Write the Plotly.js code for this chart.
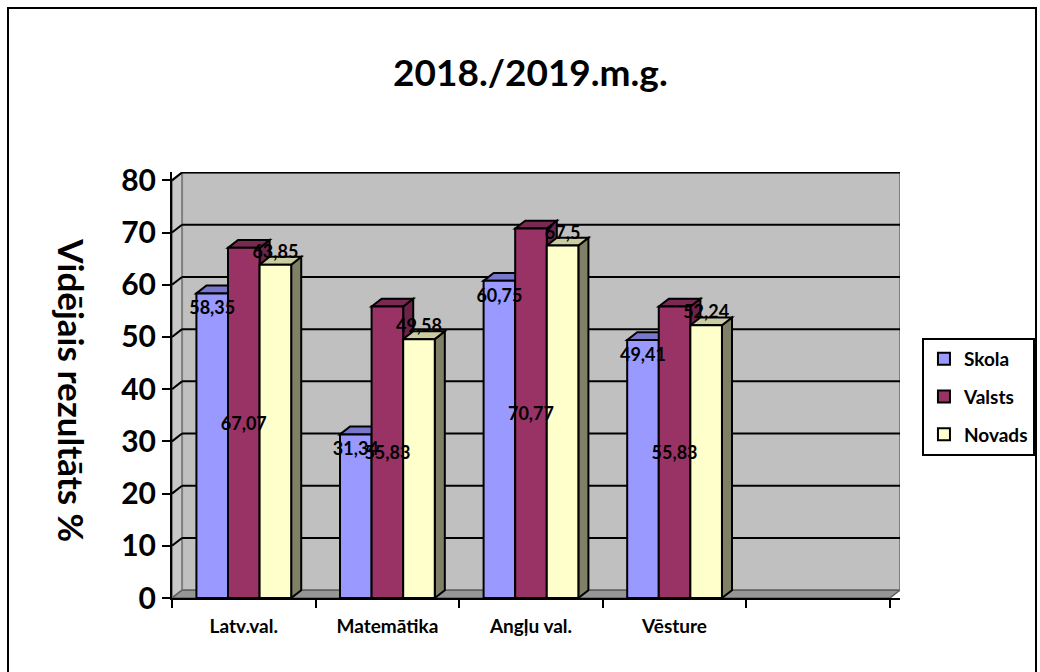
<!DOCTYPE html>
<html><head><meta charset="utf-8">
<script src="https://cdn.plot.ly/plotly-3.0.1.min.js"></script>
<style>
body{margin:0;background:#fff;}
#wrap{position:relative;width:1040px;height:672px;overflow:hidden;}
#chart{width:1040px;height:672px;}
#frame{position:absolute;left:7px;top:7px;width:1026px;height:700px;border:2px solid #000;pointer-events:none;}
</style></head>
<body><div id="wrap"><div id="chart"></div><div id="frame"></div></div>
<script>
const categories = ['Latv.val.', 'Matemātika', 'Angļu val.', 'Vēsture'];
const seriesNames = ['Skola', 'Valsts', 'Novads'];
const skola  = [58.35, 31.34, 60.75, 49.41];
const valsts = [67.07, 55.83, 70.77, 55.83];
const novads = [63.85, 49.58, 67.5, 52.24];
const yTicks = [0, 10, 20, 30, 40, 50, 60, 70, 80];

const FONT = 'Lato, "Open Sans", sans-serif';
const front = ['#9999FF', '#993366', '#FFFFCC'];
const topC  = ['#7777CC', '#7A2952', '#CCCCA3'];
const sideC = ['#6B6BB3', '#6B2447', '#808066'];
const W = 0.22, offs = [-0.33, -0.11, 0.11];
const DX = 0.07, DY = 1.5;
const xs = categories.map((c, i) => i);
const fmt = v => String(v).replace('.', ',');
const allSeries = [skola, valsts, novads];

const textPos = ['inside', 'inside', 'outside'];
const anchors = ['end', 'middle', 'middle'];
const barTraces = allSeries.map((vals, s) => ({
  type: 'bar', name: seriesNames[s], x: xs, y: vals,
  width: W, offset: offs[s],
  marker: {color: front[s], line: {color: '#000', width: 2}},
  legendgroup: 'g' + s, hoverinfo: 'skip'
}));
const labelTraces = allSeries.map((vals, s) => ({
  type: 'bar', x: xs, y: vals, width: W, offset: offs[s], showlegend: false,
  marker: {color: 'rgba(0,0,0,0)', line: {width: 0}},
  text: vals.map(fmt), textposition: textPos[s], insidetextanchor: anchors[s], textangle: 0,
  constraintext: 'none', cliponaxis: false,
  textfont: {family: FONT, size: 18, color: '#000', weight: 'bold'},
  hoverinfo: 'skip'
}));

const shapes = [];
shapes.push({type: 'rect', xref: 'x', yref: 'y', layer: 'below',
  x0: -0.5 + DX, x1: 4.5 + DX, y0: DY, y1: 80 + DY,
  fillcolor: '#C0C0C0', line: {color: '#808080', width: 2}});
shapes.push({type: 'path', xref: 'x', yref: 'y', layer: 'below',
  path: `M ${-0.5} 0 L ${-0.5 + DX} ${DY} L ${-0.5 + DX} ${80 + DY} L ${-0.5} 80 Z`,
  fillcolor: '#C8C8C8', line: {color: '#808080', width: 2}});
shapes.push({type: 'path', xref: 'x', yref: 'y', layer: 'below',
  path: `M ${-0.5} 0 L ${4.5} 0 L ${4.5 + DX} ${DY} L ${-0.5 + DX} ${DY} Z`,
  fillcolor: '#969696', line: {color: '#606060', width: 1.5}});
yTicks.slice(1).forEach(t => shapes.push({type: 'line', xref: 'x', yref: 'y', layer: 'below',
  x0: -0.5 + DX, x1: 4.5 + DX, y0: t + DY, y1: t + DY, line: {color: '#000', width: 2}}));
yTicks.slice(1).forEach(t => shapes.push({type: 'line', xref: 'x', yref: 'y', layer: 'below',
  x0: -0.5, x1: -0.5 + DX, y0: t, y1: t + DY, line: {color: '#000', width: 2}}));
allSeries.forEach((vals, s) => vals.forEach((v, i) => {
  const x0 = i + offs[s], x1 = x0 + W;
  shapes.push({type: 'path', xref: 'x', yref: 'y', layer: 'below',
    path: `M ${x1} 0 L ${x1 + DX} ${DY} L ${x1 + DX} ${v + DY} L ${x1} ${v} Z`,
    fillcolor: sideC[s], line: {color: '#000', width: 2}});
  shapes.push({type: 'path', xref: 'x', yref: 'y', layer: 'below',
    path: `M ${x0} ${v} L ${x0 + DX} ${v + DY} L ${x1 + DX} ${v + DY} L ${x1} ${v} Z`,
    fillcolor: topC[s], line: {color: '#000', width: 2}});
}));

const bounds = [-0.5, 0.5, 1.5, 2.5, 3.5, 4.5];
const layout = {
  width: 1040, height: 672,
  margin: {l: 172, r: 140, t: 172, b: 74, autoexpand: false},
  paper_bgcolor: '#fff', plot_bgcolor: '#fff',
  font: {family: FONT, color: '#000'},
  barmode: 'overlay',
  title: {text: '2018./2019.m.g.', font: {family: FONT, size: 37, weight: 'bold', color: '#000'},
    x: 0.51, xref: 'container', xanchor: 'center', y: 0.891, yref: 'container', yanchor: 'middle'},
  showlegend: true,
  legend: {x: 0.8865, xref: 'container', xanchor: 'left', y: 0.497, yref: 'container', yanchor: 'top', bgcolor: '#fff',
    bordercolor: '#000', borderwidth: 2, traceorder: 'grouped', tracegroupgap: 10,
    font: {family: FONT, size: 19, weight: 'bold', color: '#000'}},
  xaxis: {range: [-0.5, 4.5 + DX], tickvals: xs, ticktext: categories, ticks: '',
    showgrid: false, zeroline: false, showline: true, linecolor: '#000', linewidth: 2,
    tickfont: {family: FONT, size: 19, weight: 'bold'}, ticklabelstandoff: 10, automargin: false,
    minor: {tickvals: bounds, ticks: 'outside', ticklen: 8, tickwidth: 2, tickcolor: '#000', showgrid: false},
    fixedrange: true},
  yaxis: {range: [0, 80 + DY + 0.1], tickvals: yTicks, ticks: 'outside', ticklen: 8, tickwidth: 2,
    tickcolor: '#000', showgrid: false, zeroline: false, showline: true, linecolor: '#000', linewidth: 2,
    tickfont: {family: FONT, size: 30, weight: 'bold'}, automargin: false, fixedrange: true},
  annotations: [{text: 'Vidējais rezultāts %', xref: 'paper', yref: 'paper', x: -0.1375, y: 0.488,
    xanchor: 'center', yanchor: 'middle', textangle: 90, showarrow: false,
    font: {family: FONT, size: 35, weight: 'bold', color: '#000'}}],
  shapes: shapes
};
Plotly.newPlot('chart', barTraces.concat(labelTraces), layout, {displayModeBar: false, staticPlot: true});
</script></body></html>
